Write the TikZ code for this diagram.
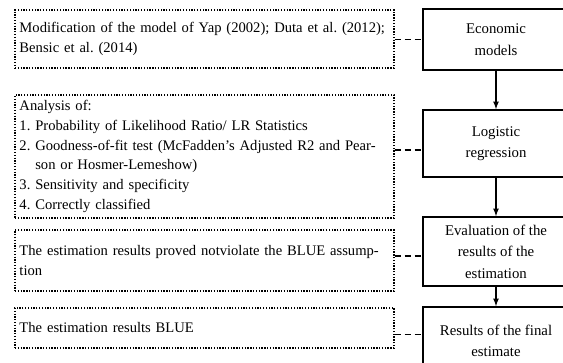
\documentclass[tikz,border=0pt]{standalone}
\usepackage{fontspec}
\setmainfont{Liberation Serif}
\usetikzlibrary{calc}
\frenchspacing

\begin{document}
\begin{tikzpicture}[x=1pt,y=1pt,
  note/.style={draw=black,line width=1.3pt,dash pattern=on 1.3pt off 1.5pt,minimum width=379pt,text width=370pt,inner xsep=4.5pt,inner ysep=3pt,align=left,font=\fontsize{14.6}{19.8}\selectfont},
  stage/.style={draw=black,line width=1.6pt,minimum width=146pt,inner sep=2pt,align=center,font=\fontsize{14.8}{21.5}\selectfont},
  link/.style={line width=1.4pt,dash pattern=on 6pt off 4pt},
  flow/.style={->,>=latex,line width=1.6pt}]
\useasboundingbox (0,0) rectangle (563,-363);
% notes on the left
\node[note,minimum height=58pt] (l1) at (204.5,-39) {Modification of the model of Yap (2002); Duta et al. (2012);\\Bensic et al. (2014)};
\node[note,minimum height=123pt] (l2) at (204.5,-156.5) {Analysis of:\\1. Probability of Likelihood Ratio/ LR Statistics\\2. Goodness-of-fit test (McFadden's Adjusted R2 and Pear-\\\hphantom{2. }son or Hosmer-Lemeshow)\\3. Sensitivity and specificity\\4. Correctly classified};
\node[note,minimum height=61pt] (l3) at (204.5,-260.5) {The estimation results proved notviolate the BLUE assump-\\tion};
\node[note,minimum height=40pt] (l4) at (204.5,-328) {The estimation results BLUE};
% stages on the right
\node[stage,minimum height=61pt] (r1) at (496,-39.5) {Economic\\models};
\node[stage,minimum height=67pt] (r2) at (496,-143.5) {Logistic\\regression};
\node[stage,minimum height=69pt] (r3) at (496,-251.5) {Evaluation of the\\results of the\\estimation};
\node[stage,minimum height=68pt] (r4) at (496,-341) {Results of the final\\estimate};
\draw[flow] (r1) -- (r2);
\draw[flow] (r2) -- (r3);
\draw[flow] (r3) -- (r4);
\foreach \i in {1,...,4}{
  \coordinate (m\i) at ($(l\i.east)!.5!(r\i.west)$);
  \draw[link] (l\i.east |- m\i) -- (r\i.west |- m\i);
}
\end{tikzpicture}
\end{document}
